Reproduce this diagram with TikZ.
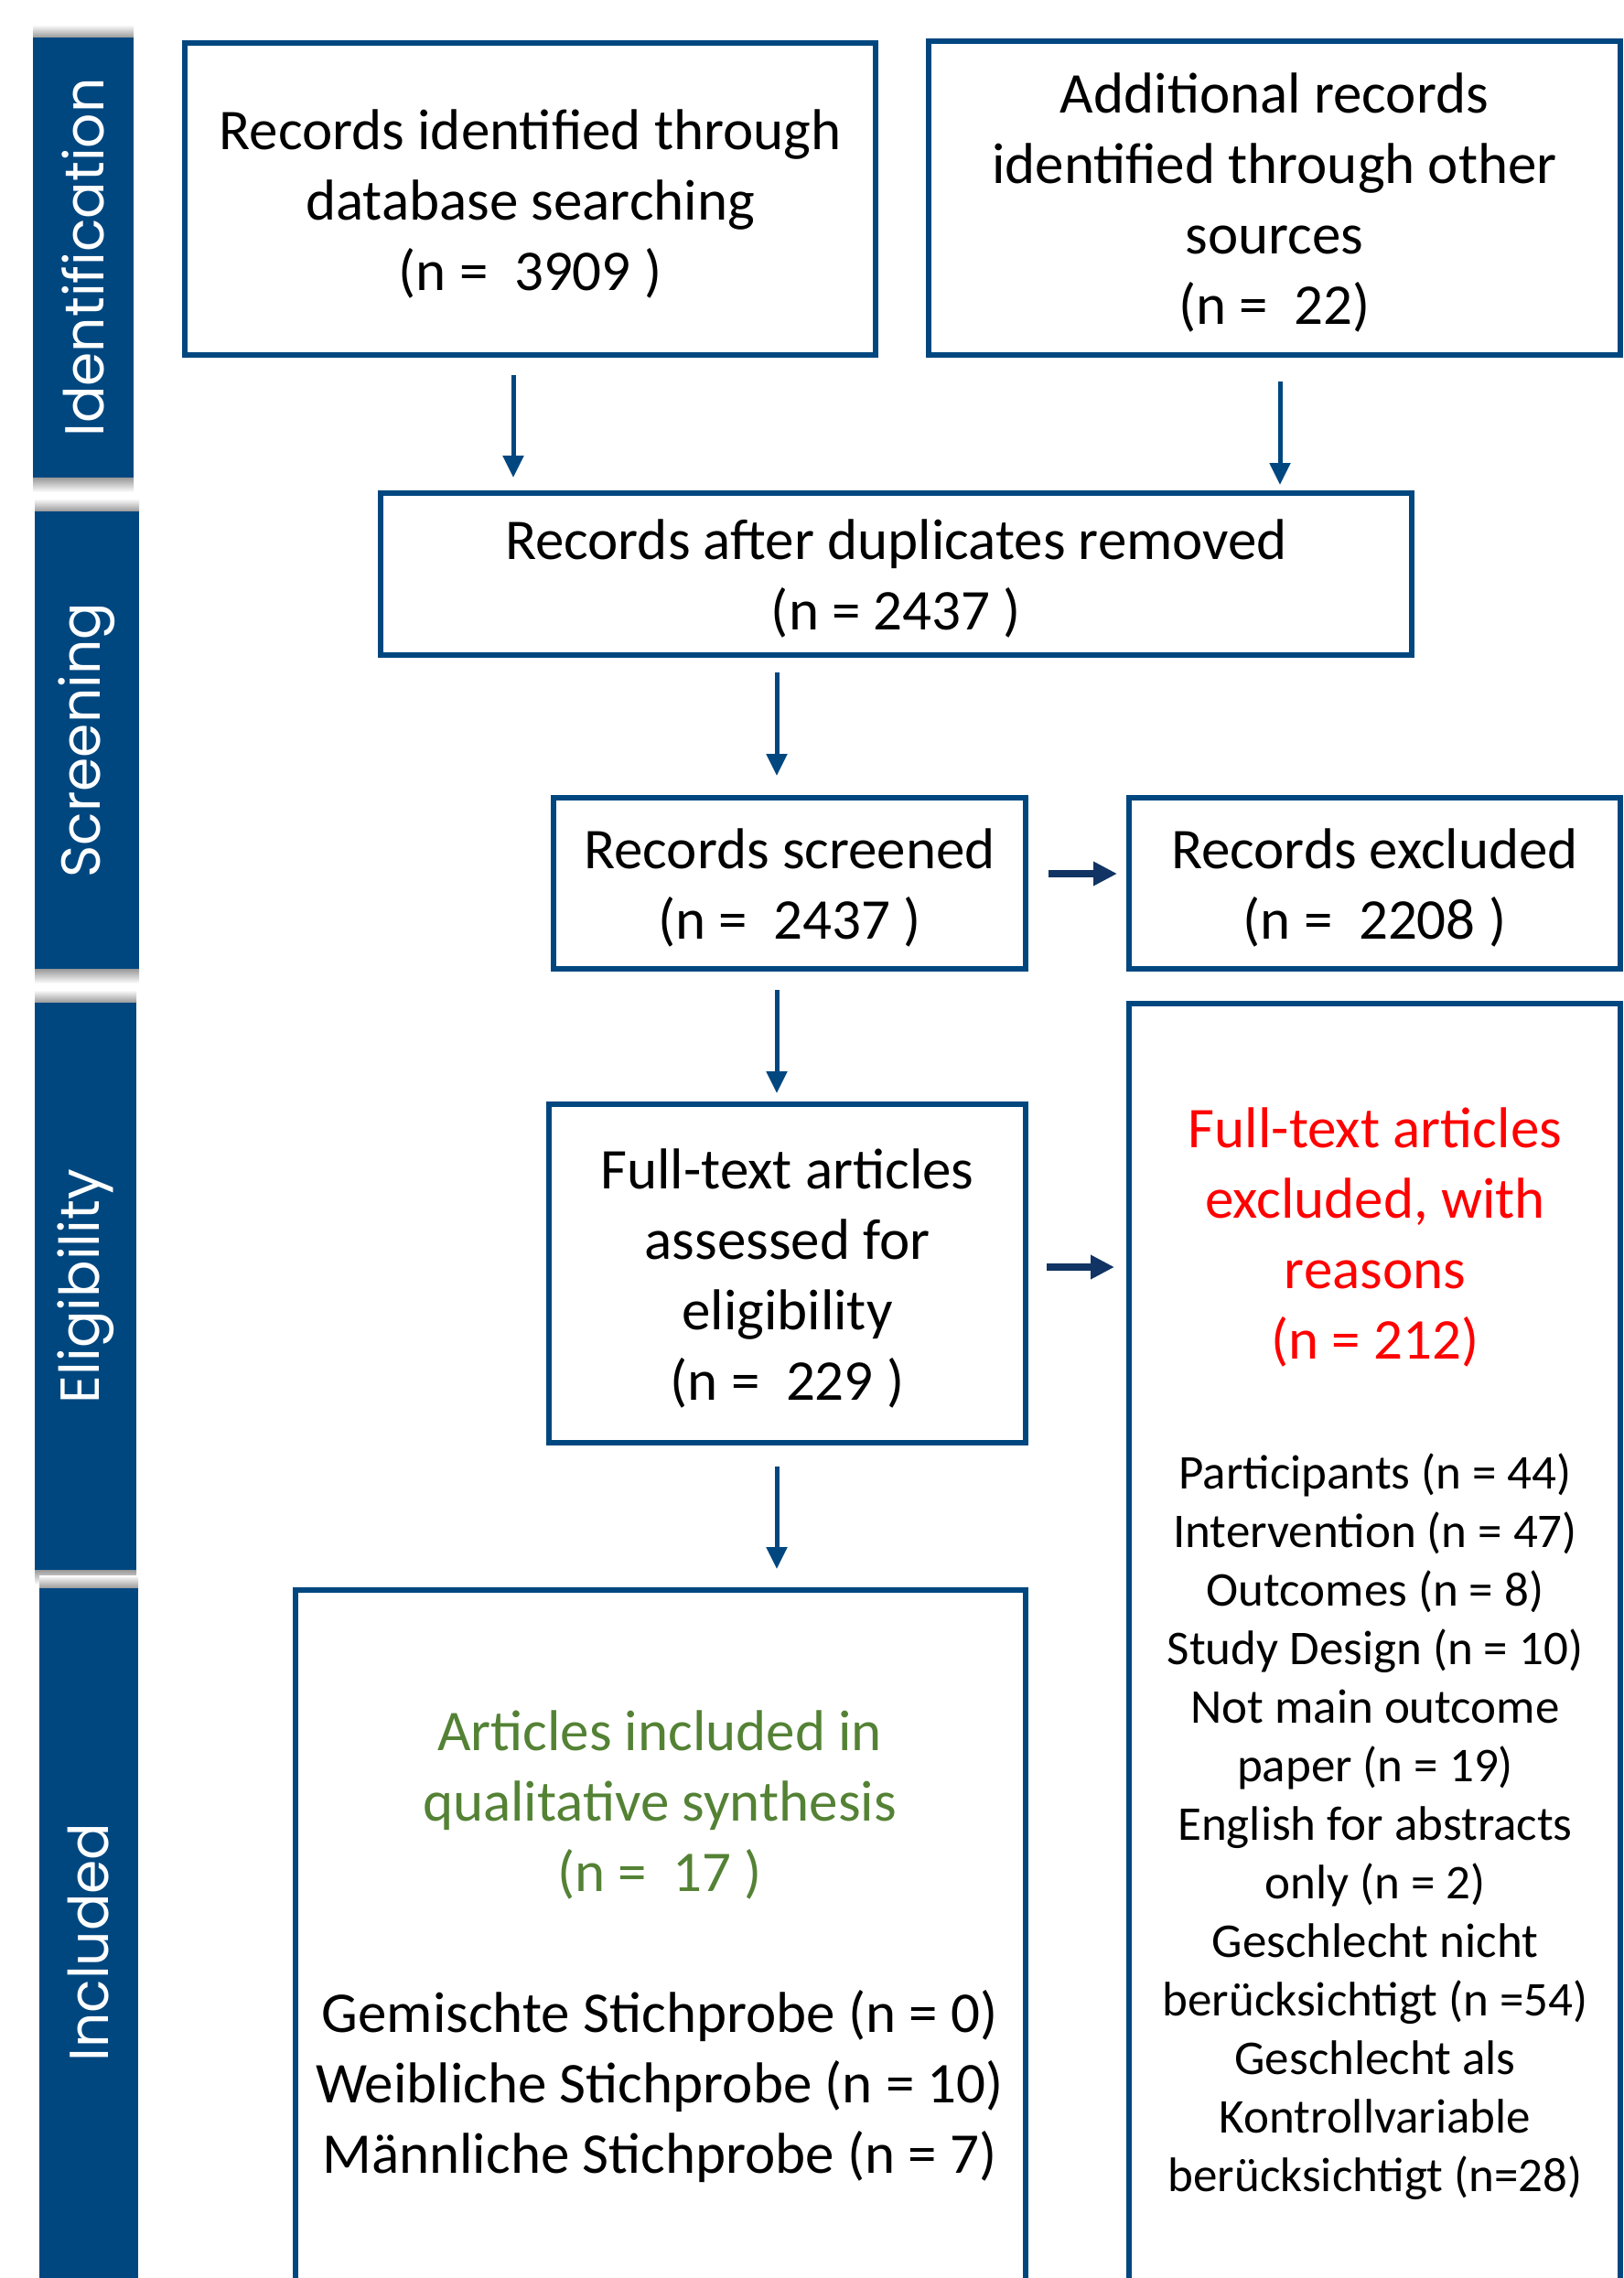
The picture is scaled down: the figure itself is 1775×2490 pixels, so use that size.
\documentclass[tikz,border=0pt]{standalone}
\usepackage{fontspec}
\setmainfont{Carlito}
\newfontfamily\barfam{Poppins}
\usetikzlibrary{arrows.meta}
\definecolor{navy}{RGB}{0,71,128}
\definecolor{darknavy}{RGB}{18,52,100}
\definecolor{exred}{RGB}{255,0,0}
\definecolor{incgreen}{RGB}{84,130,53}
\newcommand{\barfont}{\barfam\fontsize{60}{70}\selectfont}
\newcommand{\fl}{\rule{0pt}{54pt}}
\begin{document}
\begin{tikzpicture}[x=1pt,y=-1pt,
  box/.style={draw=navy, line width=6pt, fill=white, inner sep=0pt, align=center,
              font=\fontsize{63}{77}\selectfont},
  txt/.style={inner sep=0pt, align=center},
  phase/.style={fill=navy, inner sep=0pt, text=white, rotate=90, font=\barfont},
  shadeup/.style={top color=white, bottom color=black!40, draw=none},
  shadedn/.style={top color=black!40, bottom color=white, draw=none},
  varr/.style={navy, line width=5pt, -{Triangle[length=24pt,width=22pt]}},
  harr/.style={darknavy, line width=8pt, -{Triangle[length=26pt,width=25pt]}},
]
\useasboundingbox (0,0) rectangle (1775,2490);
\clip (0,0) rectangle (1775,2490);

% shadows of the phase bars
\fill[shadeup] (36,27) rectangle (146,41);
\fill[shadedn] (36,522) rectangle (146,538);
\fill[shadeup] (38,545) rectangle (152,559);
\fill[shadedn] (38,1059) rectangle (152,1075);
\fill[shadeup] (38,1082) rectangle (149,1096);
\fill[shadedn] (38,1716) rectangle (149,1732);
\fill[shadeup] (43,1722) rectangle (151,1736);

% phase bars
\node[phase, minimum width=481pt, minimum height=110pt] (pid) at (91,281.5) {Identification};
\node[phase, minimum width=500pt, minimum height=114pt] (psc) at (95,809) {Screening};
\node[phase, minimum width=620pt, minimum height=111pt] (pel) at (93.5,1406) {Eligibility};
\node[phase, minimum width=774pt, minimum height=108pt] (pin) at (97,2123) {Included};

% boxes
\node[box, minimum width=755pt, minimum height=341pt] (box1) at (579.5,217.5)
  {\fl Records identified through\\database searching\\(n =~ 3909 )};
\node[box, minimum width=756pt, minimum height=343pt] (box2) at (1393,216.5)
  {\fl Additional records\\identified through other\\sources\\(n =~ 22)};
\node[box, minimum width=1127pt, minimum height=177pt] (dup) at (979.5,627.5)
  {\fl Records after duplicates removed\\(n = 2437 )};
\node[box, minimum width=516pt, minimum height=187pt] (scr) at (863,965.5)
  {\fl Records screened\\(n =~ 2437 )};
\node[box, minimum width=537pt, minimum height=187pt] (exc) at (1502.5,965.5)
  {\fl Records excluded\\(n =~ 2208 )};
\node[box, minimum width=521pt, minimum height=370pt] (ful) at (860.5,1392)
  {\fl Full-text articles\\assessed for\\eligibility\\(n =~ 229 )};
\node[box, minimum width=537pt, minimum height=1420pt] (rea) at (1502.5,1807) {};
\node[box, minimum width=798pt, minimum height=790pt] (inc) at (722,2133) {};

% texts of the two tall boxes
\node[txt, text=exred, font=\fontsize{63}{77}\selectfont] (reat) at (1503,1352)
  {Full-text articles\\excluded, with\\reasons\\(n = 212)};
\node[txt, font=\fontsize{53}{64}\selectfont] (real) at (1503,1997)
  {Participants (n = 44)\\Intervention (n = 47)\\Outcomes (n = 8)\\Study Design (n = 10)\\Not main outcome\\paper (n = 19)\\English for abstracts\\only (n = 2)\\Geschlecht nicht\\berücksichtigt (n =54)\\Geschlecht als\\Kontrollvariable\\berücksichtigt (n=28)};
\node[txt, text=incgreen, font=\fontsize{63}{77}\selectfont] (inct) at (721,1973)
  {Articles included in\\qualitative synthesis\\(n =~ 17 )};
\node[txt, font=\fontsize{63}{77}\selectfont] (incl) at (721,2281)
  {Gemischte Stichprobe (n = 0)\\Weibliche Stichprobe (n = 10)\\Männliche Stichprobe (n = 7)};

% connectors
\draw[varr, shorten <=19pt, shorten >=14pt]
  ([xshift=-18.5pt]box1.south) -- ([xshift=-18.5pt]box1.south |- dup.north);
\draw[varr, shorten <=26pt, shorten >=6pt]
  ([xshift=6pt]box2.south) -- ([xshift=6pt]box2.south |- dup.north);
\draw[varr, shorten <=16pt, shorten >=21pt]
  ([xshift=-14pt]scr.north |- dup.south) -- ([xshift=-14pt]scr.north);
\draw[varr, shorten <=20pt, shorten >=9pt]
  ([xshift=-14pt]scr.south) -- ([xshift=-14pt]scr.south |- ful.north);
\draw[varr, shorten <=23pt, shorten >=20pt]
  ([xshift=-11.5pt]ful.south) -- ([xshift=-11.5pt]ful.south |- inc.north);
\draw[harr, shorten <=22pt, shorten >=10pt]
  ([yshift=10.5pt]scr.east) -- ([yshift=10.5pt]scr.east -| exc.west);
\draw[harr, shorten <=20pt, shorten >=13pt]
  ([yshift=7pt]ful.east) -- ([yshift=7pt]ful.east -| rea.west);
\end{tikzpicture}
\end{document}
